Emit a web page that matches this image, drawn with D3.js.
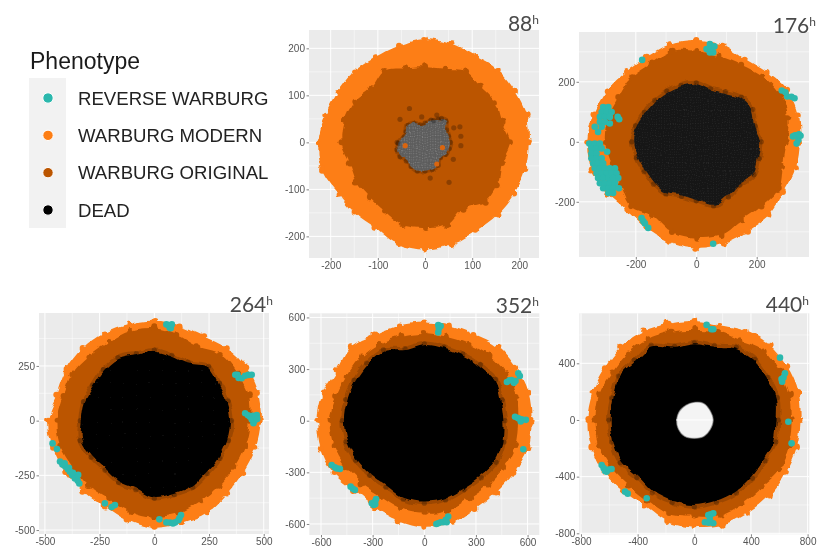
<!DOCTYPE html>
<html><head><meta charset="utf-8">
<script src="https://cdn.jsdelivr.net/npm/d3@7"></script>
<style>
html,body{margin:0;padding:0;background:#fff;}
svg{display:block;filter:blur(0.35px);}
</style></head><body>
<svg id="chart" width="823" height="549" xmlns="http://www.w3.org/2000/svg"></svg>
<script>
// ---- DATA: radius (data units) every 15 degrees, counter-clockwise from east ----
const anglesDeg = d3.range(0, 360, 15);
const hours = [88, 176, 264, 352, 440];
const phenotypes = ["REVERSE WARBURG", "WARBURG MODERN", "WARBURG ORIGINAL", "DEAD"];

const modern88 = [220,223,220,218,212,216,220,213,209,213,214,219,226,226,214,211,210,224,228,224,217,217,218,220];
const original88 = [180,168,171,167,174,162,160,163,175,163,173,177,177,165,167,165,170,182,182,182,163,179,178,169];
const dead88 = [53,50,52,62,55,48,40,38,45,50,45,45,58,60,60,55,58,62,60,58,55,45,50,52];

const modern176 = [343,351,347,329,320,335,339,337,327,329,342,352,361,358,340,323,330,345,353,351,342,342,335,341];
const original176 = [299,315,319,309,297,295,303,314,301,304,298,303,302,289,288,304,286,311,320,322,302,305,315,297];
const dead176 = [211,198,212,207,189,180,193,192,191,191,194,204,209,201,195,196,197,185,193,217,208,200,216,211];

const modern264 = [486,490,485,468,446,445,456,455,460,463,463,459,485,479,470,459,453,472,489,484,484,470,469,478];
const original264 = [437,447,437,430,393,405,422,424,415,420,432,434,447,445,429,422,412,427,439,436,425,421,422,430];
const dead264 = [346,342,337,344,303,303,316,311,326,323,319,329,332,344,327,313,320,320,348,343,344,335,339,344];

const modern352 = [623,627,616,608,581,573,571,573,579,603,587,610,621,622,609,577,580,599,616,614,593,590,604,625];
const original352 = [545,555,550,535,515,505,510,510,515,520,520,530,550,545,530,515,505,525,535,535,520,525,535,545];
const dead352 = [459,459,470,451,439,434,439,425,466,465,462,464,467,463,451,440,437,463,470,467,453,459,474,470];

const modern440 = [750,761,757,752,725,694,699,703,722,730,729,743,755,752,739,712,698,738,753,766,757,753,746,750];
const original440 = [687,698,694,693,650,643,635,644,657,663,669,695,697,695,676,654,656,687,682,692,678,671,694,692];
const dead440 = [581,596,589,594,581,535,534,528,598,587,607,592,591,592,591,562,582,592,600,592,584,571,567,584];
const holeAngles440 = d3.range(0, 360, 30);
const hole440 = [134,130,135,125,120,122,125,130,135,130,135,132];

// Individual cells: [x, y]
const reverse176 = [
 [-308,116],[-291,116],[-313,99],[-297,99],[-280,99],[-319,83],[-302,83],[-286,83],[-319,66],[-302,66],[-336,50],[-313,50],[-325,33],
 [-354,-6],[-336,-6],[-319,-6],[-347,-22],[-330,-22],[-313,-22],[-347,-39],[-330,-39],[-347,-55],[-330,-55],[-313,-55],
 [-341,-72],[-325,-72],[-308,-72],[-336,-88],[-319,-88],[-302,-88],[-286,-88],[-269,-88],
 [-330,-105],[-313,-105],[-297,-105],[-280,-105],[-264,-105],[-325,-121],[-308,-121],[-291,-121],[-275,-121],[-258,-121],
 [-319,-138],[-302,-138],[-286,-138],[-269,-138],[-308,-155],[-291,-155],[-275,-155],[-291,-171],[-275,-171],
 [-256,-155],[-286,61],[-295,-33],[-260,83],[-255,75],
 [45,326],[34,309],[56,298],[45,298],[50,310],[60,318],[-179,273],
 [283,171],[295,165],[301,151],[315,150],[325,145],[327,22],[338,6],[332,-6],[345,20],[320,18],[340,25],
 [-181,-254],[-175,-265],[-170,-272],[-159,-287],[56,-340]];
const reverse264 = [[55,440],[64,437],[70,425],[75,422],[80,440],
 [370,210],[380,209],[385,195],[399,194],[415,205],[430,209],[445,210],
 [415,34],[428,25],[437,18],[450,22],[460,3],[468,26],[453,-12],[445,5],[462,18],[470,8],
 [-465,-104],[-445,-130],[-431,-187],[-420,-200],[-407,-210],[-395,-222],[-386,-233],[-375,-250],[-363,-264],[-350,-275],[-343,-287],[-348,-248],[-410,-195],[-390,-215],[-372,-238],
 [-226,-378],[-180,-386],[-195,-395],[23,-451],[55,-465],[72,-466],[85,-470],[95,-465],[110,-455],[122,-431],[115,-445]];
const reverse352 = [[81,556],[95,550],[81,513],[85,535],
 [480,225],[495,235],[507,236],[520,220],[530,230],[546,275],[555,260],
 [527,23],[545,15],[565,8],[590,5],[560,-5],[575,-166],
 [-538,-257],[-520,-270],[-509,-277],[-490,-280],[-428,-383],[-415,-395],[-403,-403],
 [-286,-470],[-295,-490],[-305,-480],[-280,-455],[-285,-485],
 [70,-600],[81,-596],[95,-590],[110,-590],[125,-575],[139,-557],[130,-590]];
const reverse440 = [[87,671],[134,640],[120,640],[616,289],[630,300],[640,329],[620,270],[605,440],[664,-12],[687,-165],
 [-654,-318],[-640,-340],[-630,-360],[-619,-365],[-605,-350],[-584,-346],[-489,-506],[-470,-520],[-336,-553],
 [99,-671],[115,-665],[134,-659],[75,-722],[134,-729],[100,-725],[110,-700]];
const deadStray88 = [[-53,49],[-7,54],[18,46],[35,51],[61,31],[76,13],[76,-7],[60,-36],[51,-85],[11,-76],[-33,72],[-57,-2],[25,58],[74,33]];
const modernStray88 = [[-42,-7],[37,-11],[25,-46]];

// Axis ticks
const ticks88 = [-200,-100,0,100,200];
const minor88 = [-150,-50,50,150];
const ticks176 = [-200,0,200];
const minor176 = [-300,-100,100,300];
const ticks264 = [-500,-250,0,250,500];
const minor264 = [-375,-125,125,375];
const ticks352 = [-600,-300,0,300,600];
const minor352 = [-450,-150,150,450];
const ticks440 = [-800,-400,0,400,800];
const minor440 = [-600,-200,200,600];

// ---- LAYOUT & STYLE ----
const colors = {reverse:"#2bb8ad", modern:"#fd7e14", original:"#bb5500", dead:"#000", panel:"#ebebeb", text:"#555"};
const layout = [
 {l:309,r:539,t:30,b:258,xd:[-246,241.7],yd:[-246,239],tx:539,ty:31,deadBase:"#5c5c5c",deadDot:"#7d7d7d"},
 {l:579,r:809,t:32,b:257,xd:[-388,373],yd:[-384,366],tx:816,ty:33,deadBase:"#141414",deadDot:"#262626"},
 {l:39,r:269,t:313,b:534,xd:[-527,524],yd:[-518,492],tx:273,ty:312,deadBase:"#030303",deadDot:"#070707"},
 {l:309.3,r:539.3,t:313.3,b:535,xd:[-668,668],yd:[-664,624],tx:539,ty:313,deadBase:"#000",deadDot:"#000"},
 {l:579.3,r:809.3,t:313.3,b:534.3,xd:[-812,812],yd:[-807,753],tx:809,ty:312,deadBase:"#000",deadDot:"#000"}
];
const series = [
 {modern:modern88,original:original88,dead:dead88,reverse:[],ticks:ticks88,minor:minor88},
 {modern:modern176,original:original176,dead:dead176,reverse:reverse176,ticks:ticks176,minor:minor176},
 {modern:modern264,original:original264,dead:dead264,reverse:reverse264,ticks:ticks264,minor:minor264},
 {modern:modern352,original:original352,dead:dead352,reverse:reverse352,ticks:ticks352,minor:minor352},
 {modern:modern440,original:original440,dead:dead440,reverse:reverse440,ticks:ticks440,minor:minor440}
];

const svg = d3.select("#chart");
const defs = svg.append("defs");

// rough cell-cluster edge
const rough = defs.append("filter").attr("id","rough")
  .attr("x","-10%").attr("y","-10%").attr("width","120%").attr("height","120%");
rough.append("feTurbulence").attr("type","fractalNoise").attr("baseFrequency",0.1)
  .attr("numOctaves",1).attr("seed",7).attr("result","n");
rough.append("feDisplacementMap").attr("in","SourceGraphic").attr("in2","n")
  .attr("scale",7).attr("xChannelSelector","R").attr("yChannelSelector","G");

const font = "'Liberation Sans', Arial, sans-serif";

series.forEach((s, i) => {
  const p = layout[i];
  const x = d3.scaleLinear().domain(p.xd).range([p.l, p.r]);
  const y = d3.scaleLinear().domain(p.yd).range([p.b, p.t]);
  const g = svg.append("g");

  const clipId = "clip" + i;
  defs.append("clipPath").attr("id", clipId).append("rect")
    .attr("x", p.l).attr("y", p.t).attr("width", p.r - p.l).attr("height", p.b - p.t);

  const pat = defs.append("pattern").attr("id","mesh"+i).attr("patternUnits","userSpaceOnUse")
    .attr("width",2.6).attr("height",2.6);
  pat.append("rect").attr("width",2.6).attr("height",2.6).attr("fill",p.deadBase);
  pat.append("circle").attr("cx",1.3).attr("cy",1.3).attr("r",.7).attr("fill",p.deadDot);

  g.append("rect").attr("x",p.l).attr("y",p.t).attr("width",p.r-p.l).attr("height",p.b-p.t).attr("fill",colors.panel);

  // only ticks inside the panel's range are drawn
  const xTicks = s.ticks.filter(d => d >= p.xd[0] && d <= p.xd[1]);
  const yTicks = s.ticks.filter(d => d >= p.yd[0] && d <= p.yd[1]);
  const xMinor = s.minor.filter(d => d >= p.xd[0] && d <= p.xd[1]);
  const yMinor = s.minor.filter(d => d >= p.yd[0] && d <= p.yd[1]);

  // grid
  const grid = g.append("g").attr("stroke","#fff");
  grid.selectAll(".mv").data(xMinor).join("line").attr("class","mv").attr("x1",d=>x(d)).attr("x2",d=>x(d)).attr("y1",p.t).attr("y2",p.b).attr("stroke-width",.5);
  grid.selectAll(".mh").data(yMinor).join("line").attr("class","mh").attr("y1",d=>y(d)).attr("y2",d=>y(d)).attr("x1",p.l).attr("x2",p.r).attr("stroke-width",.5);
  grid.selectAll(".jv").data(xTicks).join("line").attr("class","jv").attr("x1",d=>x(d)).attr("x2",d=>x(d)).attr("y1",p.t).attr("y2",p.b).attr("stroke-width",1);
  grid.selectAll(".jh").data(yTicks).join("line").attr("class","jh").attr("y1",d=>y(d)).attr("y2",d=>y(d)).attr("x1",p.l).attr("x2",p.r).attr("stroke-width",1);

  // marks
  const polar = (r, a) => [x(r*Math.cos(a*Math.PI/180)), y(r*Math.sin(a*Math.PI/180))];
  const blob = d3.line().curve(d3.curveCatmullRomClosed.alpha(.5));
  const marks = g.append("g").attr("clip-path",`url(#${clipId})`);
  const layer = (radii, fill, cr) => {
    const pts = radii.map((r,k)=>polar(r, anglesDeg[k]));
    const lg = marks.append("g").attr("filter","url(#rough)");
    lg.append("path").attr("d",blob(pts)).attr("fill",fill);
    lg.selectAll("circle").data(pts).join("circle")
      .attr("cx",d=>d[0]).attr("cy",d=>d[1]).attr("r",cr).attr("fill",fill);
    return pts;
  };
  layer(s.modern, colors.modern, 3);
  layer(s.original, colors.original, 3);

  // semi-transparent fringe of dying cells around the necrotic core
  const fringe = s.dead.map((r,k)=>polar(r*1.02, anglesDeg[k]));
  marks.append("path").attr("d",blob(fringe)).attr("fill","none").attr("stroke","#000")
    .attr("stroke-opacity",.16).attr("stroke-width",4).attr("filter","url(#rough)");
  marks.selectAll(".fr").data(fringe).join("circle").attr("class","fr")
    .attr("cx",d=>d[0]).attr("cy",d=>d[1]).attr("r",2.6).attr("fill","#000").attr("fill-opacity",.25);

  layer(s.dead, `url(#mesh${i})`, 0.01);

  if (i === 0) {
    marks.selectAll(".st").data(deadStray88).join("circle").attr("class","st")
      .attr("cx",d=>x(d[0])).attr("cy",d=>y(d[1])).attr("r",2.6).attr("fill","#000").attr("fill-opacity",.25);
    marks.selectAll(".ms").data(modernStray88).join("circle").attr("class","ms")
      .attr("cx",d=>x(d[0])).attr("cy",d=>y(d[1])).attr("r",2.6).attr("fill","#d9650f");
  }
  if (i === 4) {
    const hp = hole440.map((r,k)=>polar(r, holeAngles440[k]));
    marks.append("path").attr("d",blob(hp)).attr("fill","#f4f4f4")
      .attr("stroke","#777").attr("stroke-width",1.2).attr("stroke-opacity",.6);
    marks.append("line").attr("x1",x(-128)).attr("x2",x(128)).attr("y1",y(0)).attr("y2",y(0)).attr("stroke","#fff");
  }

  marks.selectAll(".rv").data(s.reverse).join("circle").attr("class","rv")
    .attr("cx",d=>x(d[0])).attr("cy",d=>y(d[1])).attr("r",3.3).attr("fill",colors.reverse);

  // axes
  const ax = d3.axisBottom(x).tickValues(xTicks).tickSize(2.5).tickPadding(1.5).tickFormat(d=>String(d));
  const ay = d3.axisLeft(y).tickValues(yTicks).tickSize(2.5).tickPadding(1.5).tickFormat(d=>String(d));
  const gx = g.append("g").attr("transform",`translate(0,${p.b})`).call(ax);
  const gy = g.append("g").attr("transform",`translate(${p.l},0)`).call(ay);
  [gx,gy].forEach(a=>{
    a.select(".domain").remove();
    a.selectAll("line").attr("stroke","#333").attr("stroke-width",.6);
    a.selectAll("text").attr("fill",colors.text).style("font-family",font).style("font-size","10px");
  });

  // title
  const t = svg.append("text").attr("x",p.tx).attr("y",p.ty).attr("text-anchor","end")
    .attr("fill","#4a4a4a").style("font-family","Lato, sans-serif").style("font-size","21px");
  t.append("tspan").text(hours[i]);
  t.append("tspan").attr("dy",-7).style("font-size","12px").text("h");
});

// legend
const legendColors = [colors.reverse, colors.modern, colors.original, colors.dead];
const legendY = d3.scalePoint().domain(phenotypes).range([98, 210]);
const lg = svg.append("g");
lg.append("rect").attr("x",29).attr("y",78).attr("width",37).attr("height",150).attr("fill","#f2f2f2");
lg.append("text").attr("x",30).attr("y",69).attr("fill","#1a1a1a")
  .style("font-family",font).style("font-size","23px").text("Phenotype");
lg.selectAll("circle").data(phenotypes).join("circle")
  .attr("cx",48).attr("cy",d=>legendY(d)).attr("r",5.2)
  .attr("fill",(d,i)=>legendColors[i]).attr("stroke","#fff").attr("stroke-width",1);
lg.selectAll(".lab").data(phenotypes).join("text").attr("class","lab")
  .attr("x",78).attr("y",d=>legendY(d)+6.5).attr("fill","#222")
  .style("font-family",font).style("font-size","18.6px").text(d=>d);
</script>
</body></html>
